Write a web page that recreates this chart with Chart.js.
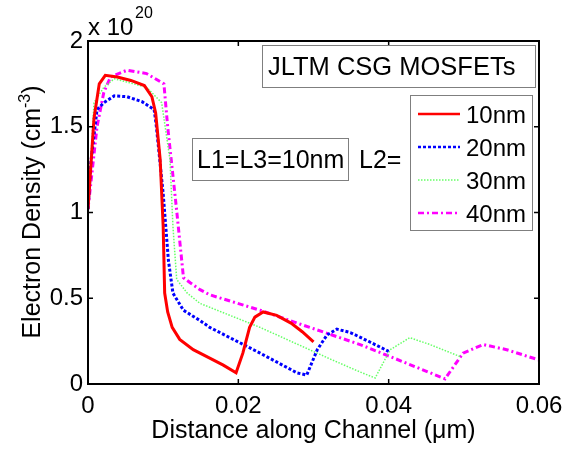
<!DOCTYPE html>
<html>
<head>
<meta charset="utf-8">
<script src="https://cdn.jsdelivr.net/npm/chart.js@4"></script>
<style>
html, body { margin: 0; padding: 0; background: #fff; }
#wrap { width: 566px; height: 450px; }
</style>
</head>
<body>
<div id="wrap"><canvas id="densChart" width="566" height="450"></canvas></div>
<script>
// electron density along the channel, in units of 1e20 cm^-3
const seriesNames = ['10nm', '20nm', '30nm', '40nm'];

const x10 = [0, 0.0008, 0.0015, 0.0023, 0.0039, 0.0057, 0.0075, 0.0085, 0.0090, 0.0096, 0.0100, 0.0102, 0.0106, 0.0112, 0.0122, 0.0140, 0.0160, 0.0180, 0.0197, 0.0206, 0.0215, 0.0222, 0.0233, 0.0251, 0.0270, 0.0285, 0.0300];
const y10 = [1.02, 1.55, 1.75, 1.80, 1.79, 1.77, 1.74, 1.675, 1.58, 1.31, 0.92, 0.53, 0.42, 0.33, 0.26, 0.20, 0.155, 0.11, 0.065, 0.18, 0.33, 0.39, 0.42, 0.40, 0.355, 0.305, 0.245];

const x20 = [0, 0.0004, 0.0012, 0.0021, 0.0035, 0.0052, 0.0072, 0.0088, 0.0091, 0.0100, 0.0107, 0.0113, 0.0127, 0.0149, 0.0162, 0.0229, 0.0278, 0.0291, 0.0305, 0.0318, 0.0331, 0.0349, 0.0375, 0.0400];
const y20 = [1.02, 1.30, 1.60, 1.64, 1.68, 1.675, 1.646, 1.60, 1.50, 1.11, 0.72, 0.53, 0.43, 0.37, 0.33, 0.18, 0.065, 0.052, 0.20, 0.286, 0.32, 0.30, 0.245, 0.19];

const x30 = [0, 0.0008, 0.0021, 0.0035, 0.0061, 0.0078, 0.0098, 0.0109, 0.0113, 0.0118, 0.0132, 0.0149, 0.0229, 0.0322, 0.0362, 0.0382, 0.0402, 0.0428, 0.0455, 0.0495];
const y30 = [1.02, 1.64, 1.73, 1.78, 1.75, 1.73, 1.64, 1.31, 0.92, 0.61, 0.53, 0.47, 0.33, 0.146, 0.07, 0.035, 0.20, 0.27, 0.23, 0.16];

const x40 = [0, 0.0012, 0.0021, 0.0030, 0.0052, 0.0078, 0.0101, 0.0106, 0.0118, 0.0127, 0.0136, 0.0149, 0.0162, 0.0229, 0.0295, 0.0362, 0.0402, 0.0475, 0.0499, 0.0526, 0.0557, 0.0600];
const y40 = [1.02, 1.50, 1.70, 1.79, 1.83, 1.81, 1.75, 1.50, 1.01, 0.62, 0.59, 0.55, 0.52, 0.43, 0.33, 0.23, 0.16, 0.03, 0.18, 0.23, 0.20, 0.14];

const xTicks = [0, 0.02, 0.04, 0.06];
const yTicks = [0, 0.5, 1, 1.5, 2];

const FONT = '"Liberation Sans", Arial, Helvetica, sans-serif';

function pts(xs, ys) {
    return xs.map((v, i) => ({ x: v, y: ys[i] }));
}

const decor = {
    id: 'decor',
    afterDraw(chart) {
        const { ctx, chartArea: a, scales: { x, y } } = chart;
        ctx.save();

        // axes box with inward ticks
        ctx.strokeStyle = '#000';
        ctx.lineWidth = 2;
        ctx.strokeRect(a.left, a.top, a.right - a.left, a.bottom - a.top);
        ctx.lineWidth = 1.5;
        ctx.beginPath();
        xTicks.forEach(v => {
            const px = x.getPixelForValue(v);
            ctx.moveTo(px, a.bottom); ctx.lineTo(px, a.bottom - 5);
            ctx.moveTo(px, a.top); ctx.lineTo(px, a.top + 5);
        });
        yTicks.forEach(v => {
            const py = y.getPixelForValue(v);
            ctx.moveTo(a.left, py); ctx.lineTo(a.left + 5, py);
            ctx.moveTo(a.right, py); ctx.lineTo(a.right - 5, py);
        });
        ctx.stroke();

        ctx.fillStyle = '#000';
        ctx.textBaseline = 'alphabetic';
        ctx.textAlign = 'left';

        // exponent label
        ctx.font = '24px ' + FONT;
        ctx.fillText('x 10', 88, 35);
        ctx.font = '16px ' + FONT;
        ctx.fillText('20', 135, 18);

        // text boxes
        function box(x0, y0, x1, y1) {
            ctx.fillStyle = '#fff';
            ctx.fillRect(x0, y0, x1 - x0, y1 - y0);
            ctx.strokeStyle = '#7f7f7f';
            ctx.lineWidth = 1;
            ctx.strokeRect(x0 + 0.5, y0 + 0.5, x1 - x0, y1 - y0);
            ctx.fillStyle = '#000';
        }
        ctx.font = '25.5px ' + FONT;
        box(262, 45, 535, 87);
        ctx.fillText('JLTM CSG MOSFETs', 268, 75);
        ctx.font = '25px ' + FONT;
        box(192, 138, 348, 180);
        ctx.fillText('L1=L3=10nm', 197, 168);
        ctx.fillText('L2=', 359, 168);

        // legend
        ctx.font = '24px ' + FONT;
        box(410, 95, 532, 230);
        const rows = [114, 147, 180, 213];
        chart.data.datasets.forEach((ds, i) => {
            const ry = rows[i];
            ctx.strokeStyle = ds.borderColor;
            ctx.lineWidth = Math.min(ds.borderWidth, 2.5);
            ctx.setLineDash(ds.borderDash || []);
            ctx.beginPath();
            ctx.moveTo(418, ry); ctx.lineTo(460, ry);
            ctx.stroke();
            ctx.setLineDash([]);
            ctx.fillStyle = '#000';
            ctx.fillText(ds.label, 466, ry + 9);
        });

        // y axis title with superscript
        ctx.translate(40, 212);
        ctx.rotate(-Math.PI / 2);
        ctx.font = '25px ' + FONT;
        const t1 = 'Electron Density (cm', t3 = ')';
        const w1 = ctx.measureText(t1).width, w3 = ctx.measureText(t3).width;
        ctx.font = '16px ' + FONT;
        const w2 = ctx.measureText('-3').width;
        let sx = -(w1 + w2 + w3) / 2;
        ctx.font = '25px ' + FONT;
        ctx.fillText(t1, sx, 0);
        ctx.font = '16px ' + FONT;
        ctx.fillText('-3', sx + w1, -10);
        ctx.font = '25px ' + FONT;
        ctx.fillText(t3, sx + w1 + w2, 0);

        ctx.restore();
    }
};

const ctx = document.getElementById('densChart');

new Chart(ctx, {
    type: 'line',
    data: {
        datasets: [
            {
                label: seriesNames[0],
                data: pts(x10, y10),
                borderColor: '#ff0000',
                borderWidth: 3
            },
            {
                label: seriesNames[1],
                data: pts(x20, y20),
                borderColor: '#0000ff',
                borderWidth: 3,
                borderDash: [3, 2]
            },
            {
                label: seriesNames[2],
                data: pts(x30, y30),
                borderColor: '#66ff66',
                borderWidth: 1.5,
                borderDash: [1.5, 1.5]
            },
            {
                label: seriesNames[3],
                data: pts(x40, y40),
                borderColor: '#ff00ff',
                borderWidth: 3,
                borderDash: [6, 3, 2, 3]
            }
        ]
    },
    options: {
        responsive: false,
        animation: false,
        elements: {
            point: { radius: 0 },
            line: { tension: 0, borderCapStyle: 'butt' }
        },
        layout: { padding: { left: 0, top: 41, right: 27, bottom: 0 } },
        plugins: {
            legend: { display: false },
            tooltip: { enabled: false }
        },
        scales: {
            x: {
                type: 'linear',
                min: 0,
                max: 0.06,
                afterBuildTicks: s => { s.ticks = xTicks.map(v => ({ value: v })); },
                afterFit: s => { s.height = 66; s.paddingLeft = 0; s.paddingRight = 0; },
                grid: { display: false, drawTicks: false },
                border: { display: false },
                ticks: {
                    color: '#000',
                    padding: 8,
                    maxRotation: 0,
                    font: { size: 24, family: FONT },
                    callback: v => String(+v.toFixed(2))
                },
                title: {
                    display: true,
                    text: 'Distance along Channel (μm)',
                    color: '#000',
                    font: { size: 25, family: FONT },
                    padding: { top: 0, bottom: 4 }
                }
            },
            y: {
                type: 'linear',
                min: 0,
                max: 2,
                afterBuildTicks: s => { s.ticks = yTicks.map(v => ({ value: v })); },
                afterFit: s => { s.width = 88; s.paddingTop = 0; s.paddingBottom = 0; },
                grid: { display: false, drawTicks: false },
                border: { display: false },
                ticks: {
                    color: '#000',
                    padding: 5,
                    font: { size: 24, family: FONT },
                    callback: v => String(v)
                }
            }
        }
    },
    plugins: [decor]
});
</script>
</body>
</html>
